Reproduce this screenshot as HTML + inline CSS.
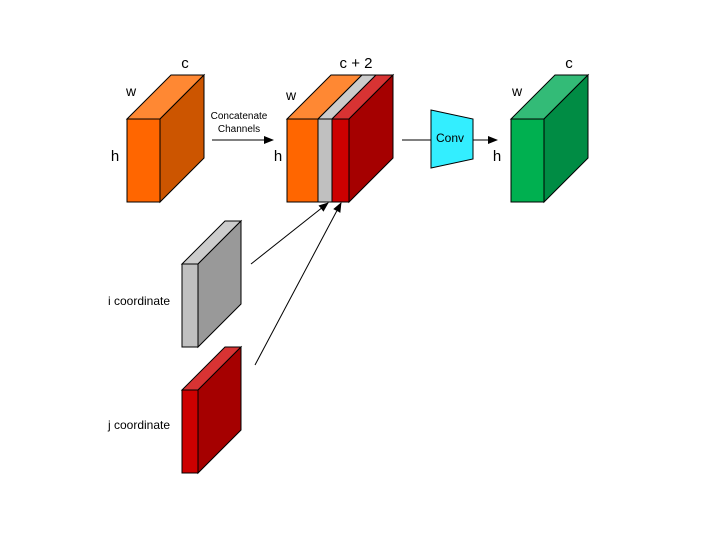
<!DOCTYPE html>
<html><head><meta charset="utf-8"><style>
html,body{margin:0;padding:0;background:#fff}
svg{display:block}
text{font-family:"Liberation Sans",sans-serif;fill:#000}
</style></head><body>
<svg width="720" height="540" viewBox="0 0 720 540" xmlns="http://www.w3.org/2000/svg">
<defs>
<marker id="a" markerWidth="10" markerHeight="8" refX="9" refY="4" orient="auto" markerUnits="userSpaceOnUse"><path d="M0,0 L10,4 L0,8z" fill="#000"/></marker>
</defs>
<g stroke="#000" stroke-width="1">
<!-- box1 -->
<polygon points="127,119 171,75 204,75 160,119" fill="#FF8833"/>
<polygon points="160,119 204,75 204,158 160,202" fill="#CC5500"/>
<rect x="127" y="119" width="33" height="83" fill="#FF6600"/>
<!-- box2 -->
<polygon points="287,119 331,75 362,75 318,119" fill="#FF8833"/>
<polygon points="318,119 362,75 376,75 332,119" fill="#CCCCCC"/>
<polygon points="332,119 376,75 393,75 349,119" fill="#D83333"/>
<polygon points="349,119 393,75 393,158 349,202" fill="#A50000"/>
<rect x="287" y="119" width="31" height="83" fill="#FF6600"/>
<rect x="318" y="119" width="14" height="83" fill="#C0C0C0"/>
<rect x="332" y="119" width="17" height="83" fill="#CC0000"/>
<!-- green -->
<polygon points="511,119 555,75 588,75 544,119" fill="#33BB77"/>
<polygon points="544,119 588,75 588,158 544,202" fill="#008C44"/>
<rect x="511" y="119" width="33" height="83" fill="#00B050"/>
<!-- gray slab -->
<polygon points="182,264 225,221 241,221 198,264" fill="#CCCCCC"/>
<polygon points="198,264 241,221 241,304 198,347" fill="#999999"/>
<rect x="182" y="264" width="16" height="83" fill="#C0C0C0"/>
<!-- red slab -->
<polygon points="182,390 225,347 241,347 198,390" fill="#D83333"/>
<polygon points="198,390 241,347 241,430 198,473" fill="#A50000"/>
<rect x="182" y="390" width="16" height="83" fill="#CC0000"/>
<!-- conv -->
<polygon points="431,110 473,119 473,159 431,168" fill="#33EEFF"/>
<!-- lines -->
<line x1="212" y1="140" x2="273" y2="140" marker-end="url(#a)"/>
<line x1="402" y1="140" x2="431" y2="140"/>
<line x1="473" y1="140" x2="497" y2="140" marker-end="url(#a)"/>
<line x1="251" y1="264" x2="328" y2="203" marker-end="url(#a)"/>
<line x1="255" y1="365" x2="341" y2="203" marker-end="url(#a)"/>
</g>
<text x="185" y="68" font-size="15" text-anchor="middle">c</text>
<text x="131" y="96" font-size="14" text-anchor="middle">w</text>
<text x="115" y="161" font-size="15" text-anchor="middle">h</text>
<text x="239" y="119" font-size="10" text-anchor="middle">Concatenate</text>
<text x="239" y="132" font-size="10" text-anchor="middle">Channels</text>
<text x="356" y="68" font-size="15" text-anchor="middle">c + 2</text>
<text x="291" y="100" font-size="14" text-anchor="middle">w</text>
<text x="278" y="161" font-size="15" text-anchor="middle">h</text>
<text x="450" y="142" font-size="12" text-anchor="middle">Conv</text>
<text x="497" y="161" font-size="15" text-anchor="middle">h</text>
<text x="517" y="96" font-size="14" text-anchor="middle">w</text>
<text x="569" y="68" font-size="15" text-anchor="middle">c</text>
<text x="108" y="305" font-size="12">i coordinate</text>
<text x="108" y="429" font-size="12">j coordinate</text>
</svg>
</body></html>
